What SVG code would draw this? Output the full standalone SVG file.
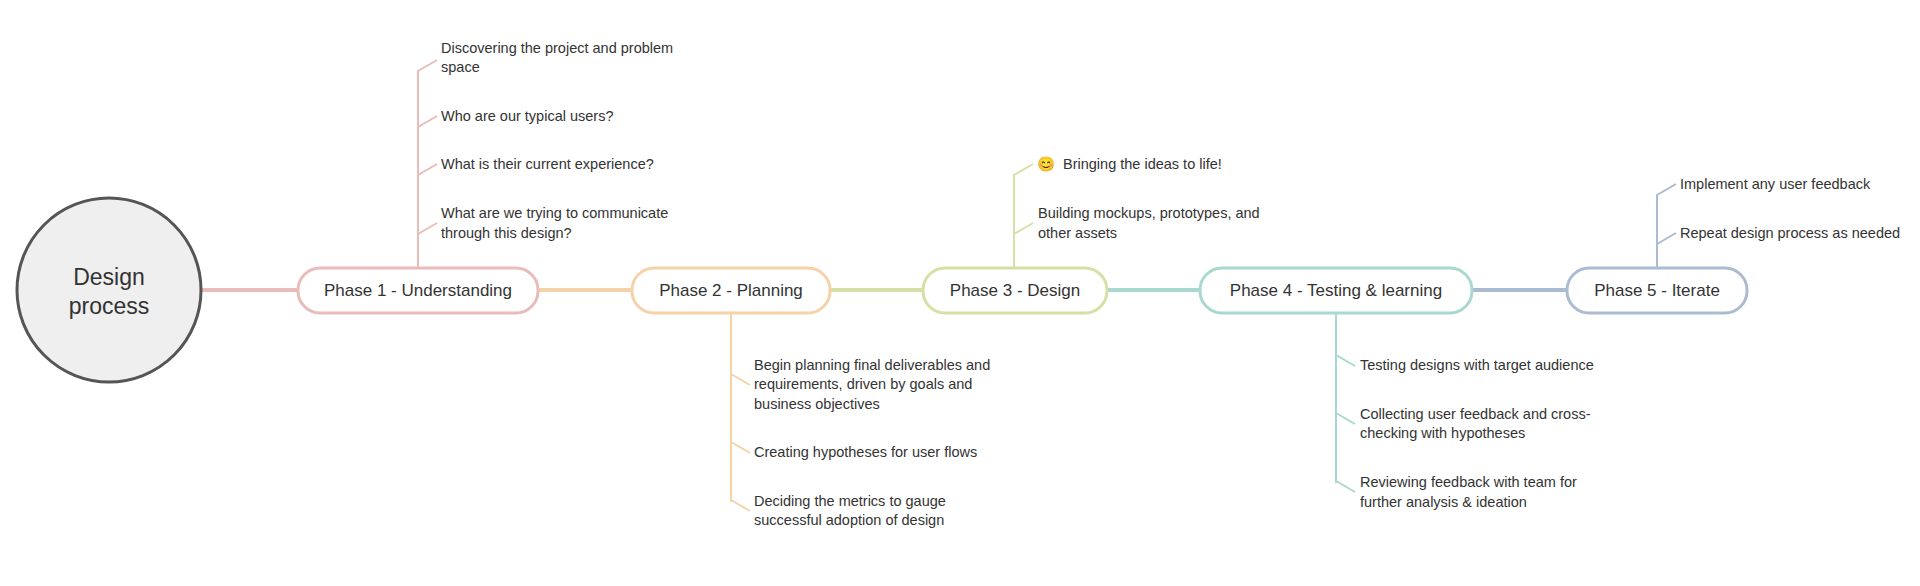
<svg xmlns="http://www.w3.org/2000/svg" width="1920" height="586" viewBox="0 0 1920 586">
<style>
text{font-family:"Liberation Sans",Arial,sans-serif;fill:#333}
.leaf{font-size:14.5px}
.ph{font-size:17px;text-anchor:middle}
.box{fill:#fff;stroke-width:3}
.c{fill:none;stroke-width:2}
.m{fill:none;stroke-width:4}
</style>
<rect width="1920" height="586" fill="#fff"/>
<g id="connectors">
<line class="m" x1="202" y1="290" x2="298" y2="290" stroke="#e8bcb8"/>
<line class="m" x1="538" y1="290" x2="632" y2="290" stroke="#f5d2a8"/>
<line class="m" x1="830" y1="290" x2="923" y2="290" stroke="#d6e0a6"/>
<line class="m" x1="1107" y1="290" x2="1200" y2="290" stroke="#a8d8cf"/>
<line class="m" x1="1472" y1="290" x2="1567" y2="290" stroke="#abbcd2"/>
<g stroke="#e8bcb8" class="c"><path d="M418 268V71L437 60M418 127L437 116M418 175L437 164M418 234L437 223"/></g>
<g stroke="#f5d2a8" class="c"><path d="M731 313V502M731 374L750 385M731 442L750 453M731 500L750 511"/></g>
<g stroke="#d6e0a6" class="c"><path d="M1014 268V175L1033 164M1014 234L1033 223"/></g>
<g stroke="#a8d8cf" class="c"><path d="M1336 313V483M1336 355L1355 366M1336 413L1355 424M1336 481L1355 492"/></g>
<g stroke="#abbcd2" class="c"><path d="M1657 268V195L1676 184M1657 244L1676 233"/></g>
</g>
<g id="root"><circle cx="109" cy="290" r="92" fill="#efefef" stroke="#555" stroke-width="3"/>
<text x="109" y="285" font-size="23" font-family="Noto Sans, sans-serif" text-anchor="middle">Design</text><text x="109" y="314" font-size="23" font-family="Noto Sans, sans-serif" text-anchor="middle">process</text></g>
<g id="p1"><rect class="box" x="298" y="268" width="240" height="45" rx="22" stroke="#e8bcb8"/><text class="ph" x="418" y="296">Phase 1 - Understanding</text></g>
<g id="p2"><rect class="box" x="632" y="268" width="198" height="45" rx="22" stroke="#f5d2a8"/><text class="ph" x="731" y="296">Phase 2 - Planning</text></g>
<g id="p3"><rect class="box" x="923" y="268" width="184" height="45" rx="22" stroke="#d6e0a6"/><text class="ph" x="1015" y="296">Phase 3 - Design</text></g>
<g id="p4"><rect class="box" x="1200" y="268" width="272" height="45" rx="22" stroke="#a8d8cf"/><text class="ph" x="1336" y="296">Phase 4 - Testing &amp; learning</text></g>
<g id="p5"><rect class="box" x="1567" y="268" width="180" height="45" rx="22" stroke="#abbcd2"/><text class="ph" x="1657" y="296">Phase 5 - Iterate</text></g>
<g id="l1"><text class="leaf" x="441" y="53">Discovering the project and problem</text><text class="leaf" x="441" y="72">space</text></g>
<g id="l2"><text class="leaf" x="441" y="121">Who are our typical users?</text></g>
<g id="l3"><text class="leaf" x="441" y="169">What is their current experience?</text></g>
<g id="l4"><text class="leaf" x="441" y="218">What are we trying to communicate</text><text class="leaf" x="441" y="238">through this design?</text></g>
<g id="l5"><text class="leaf" x="754" y="370">Begin planning final deliverables and</text><text class="leaf" x="754" y="389">requirements, driven by goals and</text><text class="leaf" x="754" y="409">business objectives</text></g>
<g id="l6"><text class="leaf" x="754" y="457">Creating hypotheses for user flows</text></g>
<g id="l7"><text class="leaf" x="754" y="506">Deciding the metrics to gauge</text><text class="leaf" x="754" y="525">successful adoption of design</text></g>
<g id="l8"><text class="leaf" x="1037" y="169">😊</text><text class="leaf" x="1063" y="169">Bringing the ideas to life!</text></g>
<g id="l9"><text class="leaf" x="1038" y="218">Building mockups, prototypes, and</text><text class="leaf" x="1038" y="238">other assets</text></g>
<g id="l10"><text class="leaf" x="1360" y="370">Testing designs with target audience</text></g>
<g id="l11"><text class="leaf" x="1360" y="419">Collecting user feedback and cross-</text><text class="leaf" x="1360" y="438">checking with hypotheses</text></g>
<g id="l12"><text class="leaf" x="1360" y="487">Reviewing feedback with team for</text><text class="leaf" x="1360" y="507">further analysis &amp; ideation</text></g>
<g id="l13"><text class="leaf" x="1680" y="189">Implement any user feedback</text></g>
<g id="l14"><text class="leaf" x="1680" y="238">Repeat design process as needed</text></g>
</svg>
